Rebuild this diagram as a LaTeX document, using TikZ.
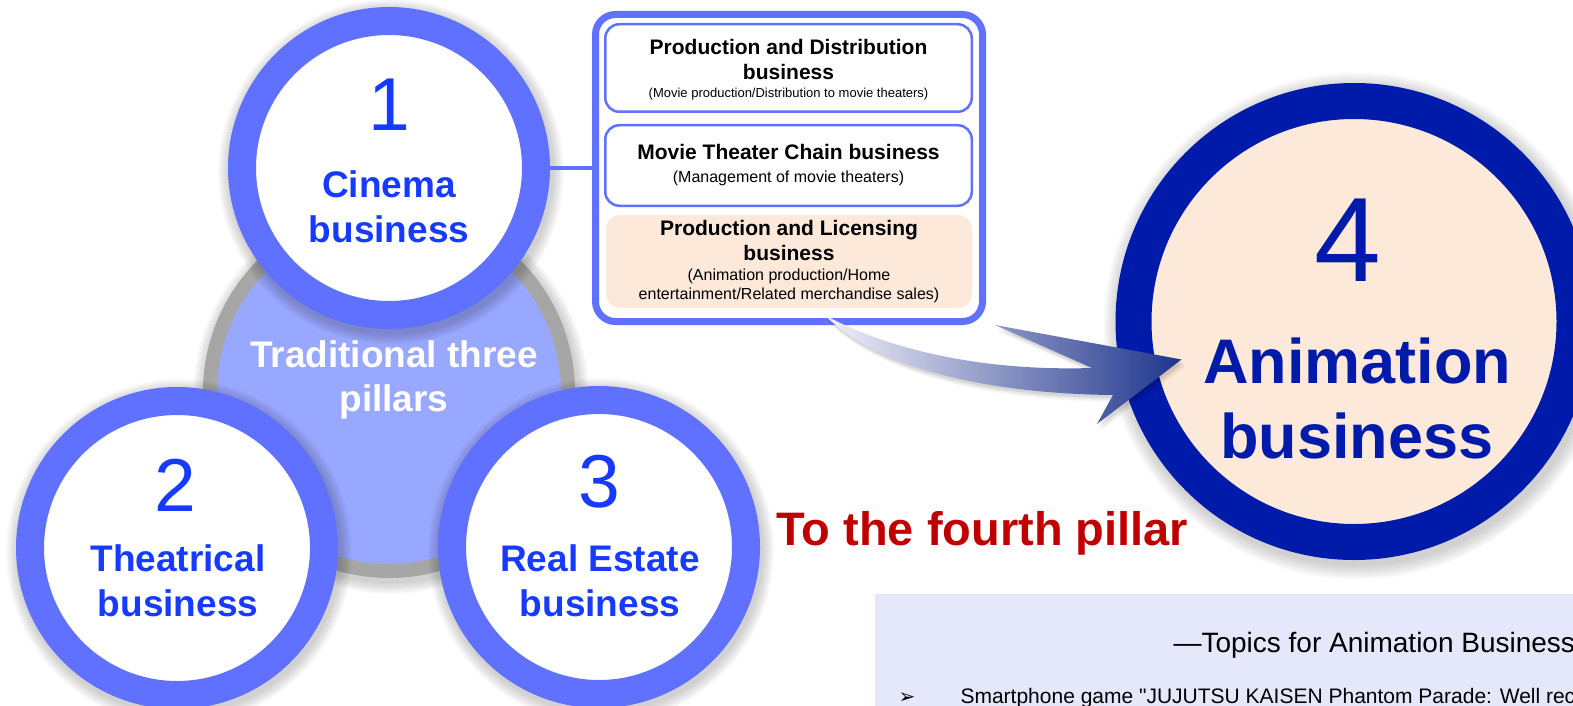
\documentclass[tikz,border=0pt]{standalone}
\usepackage{fontspec}
\setmainfont{Liberation Sans}
\newfontfamily\bulletfont{DejaVu Sans}
\usetikzlibrary{calc}

\definecolor{ringblue}{RGB}{96,112,255}
\definecolor{labelblue}{RGB}{22,58,255}
\definecolor{coreblue}{RGB}{153,168,255}
\definecolor{coregray}{RGB}{166,166,166}
\definecolor{deepblue}{RGB}{0,26,170}
\definecolor{peach}{RGB}{253,233,217}
\definecolor{lavender}{RGB}{229,231,251}
\definecolor{pillarred}{RGB}{192,0,0}
\definecolor{arrowlight}{RGB}{242,242,250}
\definecolor{arrowmid}{RGB}{125,120,195}
\definecolor{arrowdark}{RGB}{30,52,140}

\newcommand{\subnote}[2]{{\mdseries\fontsize{#1}{#1}\selectfont #2}}
\newcommand{\arrowshape}{(arrowtail) .. controls (870,340) and (960,372) .. (1092,368) -- (995,325) -- (arrowtip) -- (1097,424) -- (1113,395) .. controls (1000,394) and (880,372) .. (arrowtail) -- cycle}

\begin{document}
\begin{tikzpicture}[x=1pt,y=-1pt,
	pillar/.style={circle,draw=ringblue,line width=28pt,fill=white,minimum size=294pt,inner sep=0pt},
	digit/.style={text=labelblue,font=\fontsize{75}{75}\selectfont,inner sep=0pt},
	pillartext/.style={text=labelblue,font=\bfseries\fontsize{37}{45}\selectfont,align=center,inner sep=0pt},
	subbox/.style={rounded corners=14pt,draw=ringblue,line width=2.5pt,fill=white,minimum width=366.5pt,align=center,inner sep=0pt,font=\bfseries\fontsize{21}{25}\selectfont},
	halo/.style={black,opacity=0.02}]
	\useasboundingbox (0,0) rectangle (1573,706);
	\fill[lavender] (875,594) rectangle (1573,706);
	\node[anchor=base west,font=\fontsize{28}{34}\selectfont] (topics) at (1170,652) {—Topics for Animation Business};
	\node[anchor=base west,font=\bulletfont\fontsize{20}{24}\selectfont] (bullet) at (895,703) {➢};
	\node[anchor=base west,font=\fontsize{21}{25}\selectfont\addfontfeatures{Ligatures=TeXOff}] (game) at (957,703) {Smartphone game "JUJUTSU KAISEN Phantom Parade: Well rec};
	% three pillars
	\foreach \i in {1,...,10}
	{
		\fill[halo] (391,396) circle (186+\i*1.2);
	}
	\node[circle,draw=coregray,line width=14pt,fill=coreblue,minimum size=358pt,inner sep=0pt] (core) at (389,392) {};
	\foreach \cx/\cy in {389/168,177/548,599/547}
	\foreach \i in {1,...,10}
	{
		\fill[halo] (\cx+2,\cy+4) circle (161+\i*1.2);
	}
	\node[pillar] (cinema) at (389,168) {};
	\node[pillar] (theatre) at (177,548) {};
	\node[pillar] (estate) at (599,547) {};
	\node[digit] (cinemanum) at (389,105) {1};
	\node[pillartext] (cinematext) at (389,207) {Cinema\\business};
	\node[digit] (theatrenum) at (175,485) {2};
	\node[pillartext] (theatretext) at (178,581) {Theatrical\\business};
	\node[digit] (estatenum) at (599,482) {3};
	\node[pillartext] (estatetext) at (600,581) {Real Estate\\business};
	\node[text=white,font=\bfseries\fontsize{37}{44}\selectfont,align=center,inner sep=0pt] (coretext) at (394,380) {Traditional three\\pillars};
	% segments of the cinema business
	\node[rounded corners=20pt,draw=ringblue,line width=7pt,fill=white,minimum width=387pt,minimum height=307pt,inner sep=0pt] (segments) at (789,168) {};
	\draw[ringblue,line width=4pt] (cinema.east) -- (segments.west);
	\node[subbox,minimum height=87.5pt,inner ysep=0pt,text depth=0pt] (distrib) at (788.5,68) {\rule{0pt}{6pt}Production and Distribution\\business\\[-7pt]\subnote{13}{(Movie production/Distribution to movie theaters)}};
	\node[subbox,minimum height=80.5pt] (chain) at (788.5,165.5) {Movie Theater Chain business\\[-2pt]\subnote{16}{(Management of movie theaters)}};
	\node[subbox,draw=none,fill=peach,minimum width=366pt,minimum height=93pt] (licensing) at (789,261.5) {Production and Licensing\\business\\[-5pt]\subnote{16}{(Animation production/Home}\\[-6pt]\subnote{16}{entertainment/Related merchandise sales)}};
	% fourth pillar
	\foreach \i in {1,...,10}
	{
		\fill[halo] (1357,326) circle (238.5+\i*1.5);
	}
	\node[circle,draw=deepblue,line width=36pt,fill=peach,minimum size=441pt,inner sep=0pt] (anime) at (1354,321.5) {};
	\coordinate (arrowtail) at ($(licensing.south)+(36,6)$);
	\coordinate (arrowtip) at ($(anime.west)+(66,38)$);
	\foreach \dx/\dy/\op in {4/7/0.04,3/5/0.06,2/3/0.08}
	{
		\fill[black,opacity=\op,transform canvas={xshift=\dx pt,yshift=-\dy pt}] \arrowshape;
	}
	\shade[left color=arrowlight,middle color=arrowmid,right color=arrowdark] \arrowshape;
	\node[text=deepblue,font=\fontsize{120}{120}\selectfont,inner sep=0pt] (animenum) at (1348,240) {4};
	\node[text=deepblue,font=\bfseries\fontsize{63}{75}\selectfont,align=center,inner sep=0pt] (animetext) at (1357,398) {Animation\\business};
	\node[anchor=base west,text=pillarred,font=\bfseries\fontsize{47}{56}\selectfont] (fourth) at (773,545) {To the fourth pillar};
\end{tikzpicture}
\end{document}
